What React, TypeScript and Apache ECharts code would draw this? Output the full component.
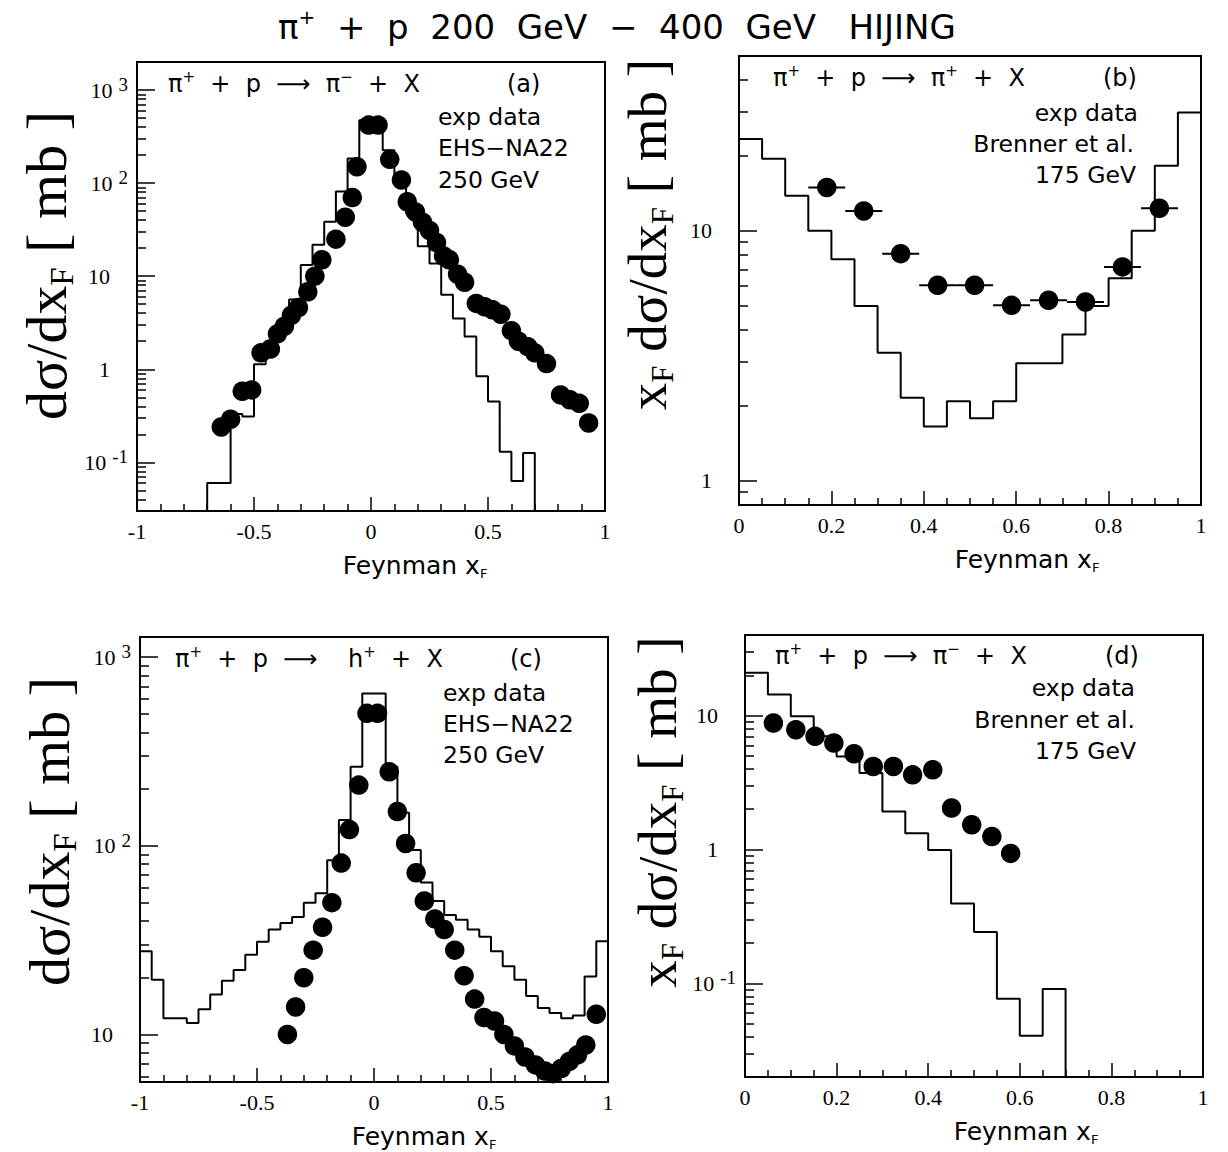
import React, { useEffect, useRef } from 'react';
import * as echarts from 'echarts';

// ---------- Panel (a): pi+ p -> pi- X, EHS-NA22 250 GeV ----------
const histEdgesA = [-0.7, -0.65, -0.6, -0.55, -0.5, -0.45, -0.4, -0.35, -0.3, -0.25, -0.2, -0.15, -0.1, -0.05, 0, 0.05, 0.1, 0.15, 0.2, 0.25, 0.3, 0.35, 0.4, 0.45, 0.5, 0.55, 0.6, 0.65, 0.7];
const histValuesA = [0.06, 0.06, 0.33, 0.31, 1.13, 2.0, 3.3, 5.6, 13.2, 21.7, 38.5, 81, 184, 473, 473, 226, 96, 47, 21, 13.7, 6.3, 3.5, 2.25, 0.84, 0.45, 0.13, 0.063, 0.126];
const dotsAx = [-0.64, -0.6, -0.55, -0.51, -0.47, -0.43, -0.4, -0.37, -0.34, -0.31, -0.27, -0.24, -0.21, -0.15, -0.11, -0.08, -0.06, -0.01, 0.03, 0.08, 0.13, 0.155, 0.19, 0.22, 0.25, 0.28, 0.31, 0.335, 0.37, 0.4, 0.45, 0.485, 0.52, 0.555, 0.6, 0.63, 0.67, 0.7, 0.75, 0.81, 0.85, 0.89, 0.93];
const dotsAy = [0.24, 0.29, 0.58, 0.6, 1.5, 1.65, 2.4, 2.9, 3.8, 4.6, 6.8, 10, 15, 25, 43, 70, 150, 420, 420, 180, 108, 63, 49, 38, 31, 23, 16.5, 15, 10.5, 8.6, 5.1, 4.7, 4.35, 3.9, 2.6, 2.0, 1.75, 1.5, 1.15, 0.53, 0.47, 0.43, 0.265];
const yTicksA = [0.1, 1, 10, 100, 1000];
const yLabelsA = ['10^-1', '1', '10', '10^2', '10^3'];

// ---------- Panel (b): pi+ p -> pi+ X, Brenner et al. 175 GeV ----------
const histEdgesB = [0, 0.05, 0.1, 0.15, 0.2, 0.25, 0.3, 0.35, 0.4, 0.45, 0.5, 0.55, 0.6, 0.65, 0.7, 0.75, 0.8, 0.85, 0.9, 0.95, 1.0];
const histValuesB = [23.3, 19.4, 13.8, 10.0, 7.7, 5.0, 3.25, 2.15, 1.65, 2.08, 1.78, 2.08, 2.95, 2.95, 3.85, 5.0, 6.45, 10.0, 18.2, 29.7];
const dotsBx = [0.19, 0.27, 0.35, 0.43, 0.51, 0.59, 0.67, 0.75, 0.83, 0.91];
const dotsBy = [14.9, 12.0, 8.1, 6.05, 6.05, 5.03, 5.27, 5.19, 7.17, 12.3];
const dotsBxErr = [0.04, 0.04, 0.04, 0.04, 0.04, 0.04, 0.04, 0.04, 0.04, 0.04];
const yTicksB = [1, 10];
const yLabelsB = ['1', '10'];

// ---------- Panel (c): pi+ p -> h+ X, EHS-NA22 250 GeV ----------
const histEdgesC = [-1, -0.95, -0.9, -0.85, -0.8, -0.75, -0.7, -0.65, -0.6, -0.55, -0.5, -0.45, -0.4, -0.35, -0.3, -0.25, -0.2, -0.15, -0.1, -0.05, 0, 0.05, 0.1, 0.15, 0.2, 0.25, 0.3, 0.35, 0.4, 0.45, 0.5, 0.55, 0.6, 0.65, 0.7, 0.75, 0.8, 0.85, 0.9, 0.95, 1.0];
const histValuesC = [27.6, 19.5, 12.2, 12.2, 11.5, 13.6, 16.3, 19.3, 22, 26.5, 31, 36, 39, 42, 50, 56, 84, 137, 263, 643, 643, 263, 150, 95, 64, 51, 43, 40.6, 36, 33, 27.6, 23, 19.5, 16, 13.8, 13, 12.2, 12.6, 20.3, 31.2];
const dotsCx = [-0.37, -0.335, -0.3, -0.26, -0.22, -0.18, -0.14, -0.105, -0.065, -0.03, 0.015, 0.065, 0.1, 0.135, 0.18, 0.215, 0.26, 0.3, 0.345, 0.385, 0.43, 0.47, 0.515, 0.555, 0.6, 0.645, 0.69, 0.73, 0.765, 0.8, 0.835, 0.87, 0.905, 0.95];
const dotsCy = [10, 14, 20, 28, 37, 50, 81, 122, 210, 504, 504, 247, 152, 103, 72, 51, 41, 36, 28, 20.5, 15.4, 12.3, 11.8, 10, 8.7, 7.6, 6.9, 6.4, 6.2, 6.6, 7.2, 7.8, 8.8, 12.8];
const yTicksC = [10, 100, 1000];
const yLabelsC = ['10', '10^2', '10^3'];

// ---------- Panel (d): pi+ p -> pi- X, Brenner et al. 175 GeV ----------
const histEdgesD = [0, 0.05, 0.1, 0.15, 0.2, 0.25, 0.3, 0.35, 0.4, 0.45, 0.5, 0.55, 0.6, 0.65, 0.7];
const histValuesD = [20.9, 14.4, 9.9, 7.0, 4.95, 3.72, 1.92, 1.32, 0.99, 0.395, 0.242, 0.0767, 0.0407, 0.091];
const dotsDx = [0.062, 0.111, 0.153, 0.194, 0.238, 0.28, 0.324, 0.366, 0.41, 0.451, 0.495, 0.539, 0.58];
const dotsDy = [8.8, 7.85, 7.0, 6.24, 5.19, 4.17, 4.17, 3.61, 3.94, 2.04, 1.53, 1.25, 0.935];
const yTicksD = [0.1, 1, 10];
const yLabelsD = ['10^-1', '1', '10'];

const minorMultipliers = [2, 3, 4, 5, 6, 7, 8, 9];
const decadeStarts = [0.01, 0.1, 1, 10, 100, 1000];

const SERIF = '"Liberation Serif", "Times New Roman", serif';
const SANS = '"DejaVu Sans", "Liberation Sans", sans-serif';

function stepPoints(edges: number[], values: number[], floorStart: number | null, floorEnd: number | null) {
  const pts: number[][] = [];
  if (floorStart != null) pts.push([edges[0], floorStart]);
  values.forEach((v, i) => {
    pts.push([edges[i], v]);
    pts.push([edges[i + 1], v]);
  });
  if (floorEnd != null) pts.push([edges[edges.length - 1], floorEnd]);
  return pts;
}

function zip(xs: number[], ys: number[]) {
  return xs.map((x, i) => [x, ys[i]]);
}

function minorTicks(min: number, max: number) {
  const out: number[] = [];
  decadeStarts.forEach((d) =>
    minorMultipliers.forEach((m) => {
      const v = +(d * m).toPrecision(6);
      if (v > min * 1.0001 && v < max * 0.9999) out.push(v);
    })
  );
  return out;
}

function logFormatter(ticks: number[], labels: string[]) {
  return (v: number) => {
    const i = ticks.findIndex((t) => Math.abs(v - t) <= t * 1e-6);
    if (i < 0) return '';
    const s = labels[i];
    const k = s.indexOf('^');
    return k >= 0 ? `{b|${s.slice(0, k)}}{s|${s.slice(k + 1)}}` : `{b|${s}}{p| }`;
  };
}

const yLabelRich = {
  b: { fontFamily: SERIF, fontSize: 22, lineHeight: 30, color: '#000' },
  s: { fontFamily: SERIF, fontSize: 19, lineHeight: 19, verticalAlign: 'top', color: '#000', padding: [0, 0, 0, 6] },
  p: { fontFamily: SERIF, fontSize: 22, width: 18 },
};

function yNameRich(size: number) {
  return {
    t: { fontFamily: SERIF, fontSize: size, lineHeight: size + 6, color: '#000' },
    sub: { fontFamily: SERIF, fontSize: Math.round(size * 0.57), lineHeight: Math.round(size * 0.57), verticalAlign: 'bottom', color: '#000' },
  };
}

const xNameRich = {
  t: { fontFamily: SANS, fontSize: 25, lineHeight: 30, color: '#000' },
  sub: { fontFamily: SANS, fontSize: 13, lineHeight: 13, verticalAlign: 'bottom', color: '#000' },
};

const textRich = {
  t: { fontFamily: SANS, fontSize: 24, lineHeight: 30, color: '#000' },
  sup: { fontFamily: SANS, fontSize: 15, lineHeight: 15, verticalAlign: 'top', color: '#000' },
};

const panels = [
  {
    grid: { left: 137, top: 62, width: 468, height: 449 },
    xMin: -1, xMax: 1, xInterval: 0.5, xMinorSplit: 5,
    yMin: 0.03, yMax: 2000, yTicks: yTicksA, yLabels: yLabelsA,
    yName: '{t|dσ/dx}{sub|F}{t| [ mb ]}', yNameSize: 58, yNameGap: 59, yNamePad: 42,
    xNamePad: 88, xNameGap: 39,
    hist: stepPoints(histEdgesA, histValuesA, 0.03, 0.03),
    dots: zip(dotsAx, dotsAy),
    err: null as null | number[][],
  },
  {
    grid: { left: 739, top: 56, width: 462, height: 449 },
    xMin: 0, xMax: 1, xInterval: 0.2, xMinorSplit: 4,
    yMin: 0.8, yMax: 50, yTicks: yTicksB, yLabels: yLabelsB,
    yName: '{t|x}{sub|F}{t| dσ/dx}{sub|F}{t| [ mb ]}', yNameSize: 55, yNameGap: 61, yNamePad: 92,
    xNamePad: 114, xNameGap: 39,
    hist: stepPoints(histEdgesB, histValuesB, null, null),
    dots: zip(dotsBx, dotsBy),
    err: dotsBx.map((x, i) => [x, dotsBy[i], dotsBxErr[i]]),
  },
  {
    grid: { left: 140, top: 637, width: 468, height: 446 },
    xMin: -1, xMax: 1, xInterval: 0.5, xMinorSplit: 5,
    yMin: 5.6, yMax: 1280, yTicks: yTicksC, yLabels: yLabelsC,
    yName: '{t|dσ/dx}{sub|F}{t| [ mb ]}', yNameSize: 58, yNameGap: 59, yNamePad: 56,
    xNamePad: 100, xNameGap: 39,
    hist: stepPoints(histEdgesC, histValuesC, null, null),
    dots: zip(dotsCx, dotsCy),
    err: null,
  },
  {
    grid: { left: 745, top: 635, width: 458, height: 442 },
    xMin: 0, xMax: 1, xInterval: 0.2, xMinorSplit: 4,
    yMin: 0.02, yMax: 40, yTicks: yTicksD, yLabels: yLabelsD,
    yName: '{t|x}{sub|F}{t| dσ/dx}{sub|F}{t| [ mb ]}', yNameSize: 55, yNameGap: 57, yNamePad: 88,
    xNamePad: 104, xNameGap: 39,
    hist: stepPoints(histEdgesD, histValuesD, null, 0.02),
    dots: zip(dotsDx, dotsDy),
    err: null,
  },
];

function text(x: number, y: number, str: string, align: string = 'left') {
  return {
    type: 'text',
    x,
    y,
    silent: true,
    style: {
      text: str,
      fontFamily: SANS,
      fontSize: 23.5,
      fill: '#000',
      align,
      verticalAlign: 'middle',
      rich: textRich,
    },
  };
}

function buildOption() {
  const grid: any[] = [];
  const xAxis: any[] = [];
  const yAxis: any[] = [];
  const series: any[] = [];
  const tickLine = { color: '#000', width: 1.5 };

  panels.forEach((p, i) => {
    grid.push({ ...p.grid, show: true, borderColor: '#000', borderWidth: 2, backgroundColor: 'transparent', containLabel: false });
    xAxis.push({
      type: 'value', gridIndex: i, min: p.xMin, max: p.xMax, interval: p.xInterval, position: 'bottom',
      axisLine: { show: true, onZero: false, lineStyle: { color: '#000', width: 2 } },
      axisTick: { show: true, inside: true, length: 14, lineStyle: tickLine },
      minorTick: { show: true, splitNumber: p.xMinorSplit, length: 7, lineStyle: tickLine },
      splitLine: { show: false },
      minorSplitLine: { show: false },
      axisLabel: { color: '#000', fontFamily: SERIF, fontSize: 22, margin: 9 },
      name: '{t|Feynman x}{sub|F}',
      nameLocation: 'middle',
      nameGap: p.xNameGap,
      nameTextStyle: { rich: xNameRich, padding: [0, 0, 0, p.xNamePad] },
    });
    yAxis.push({
      type: 'log', logBase: 10, gridIndex: i, min: p.yMin, max: p.yMax, position: 'left',
      axisLine: { show: true, onZero: false, lineStyle: { color: '#000', width: 2 } },
      axisTick: { show: true, inside: true, length: 18, customValues: p.yTicks, lineStyle: tickLine },
      axisLabel: { show: true, customValues: p.yTicks, formatter: logFormatter(p.yTicks, p.yLabels), rich: yLabelRich, margin: 9 },
      splitLine: { show: false },
      minorTick: { show: false },
      name: p.yName,
      nameLocation: 'middle',
      nameGap: p.yNameGap,
      nameTextStyle: { rich: yNameRich(p.yNameSize), padding: [0, 0, 0, p.yNamePad] },
    });
    yAxis.push({
      type: 'log', logBase: 10, gridIndex: i, min: p.yMin, max: p.yMax, position: 'left', offset: 0,
      axisLine: { show: false, onZero: false },
      axisTick: { show: true, inside: true, length: 9, customValues: minorTicks(p.yMin, p.yMax), lineStyle: tickLine },
      axisLabel: { show: false },
      splitLine: { show: false },
    });
    const yIdx = 2 * i;
    series.push({
      type: 'line', xAxisIndex: i, yAxisIndex: yIdx, data: p.hist, symbol: 'none', showSymbol: false,
      lineStyle: { color: '#000', width: 2 }, silent: true, z: 3,
    });
    if (p.err) {
      series.push({
        type: 'custom', xAxisIndex: i, yAxisIndex: yIdx, data: p.err, silent: true, z: 4,
        renderItem: (_params: any, api: any) => {
          const x = api.value(0);
          const y = api.value(1);
          const e = api.value(2);
          const a = api.coord([x - e, y]);
          const b = api.coord([x + e, y]);
          return { type: 'line', shape: { x1: a[0], y1: a[1], x2: b[0], y2: b[1] }, style: { stroke: '#000', lineWidth: 2 } };
        },
      });
    }
    series.push({
      type: 'scatter', xAxisIndex: i, yAxisIndex: yIdx, data: p.dots, symbol: 'circle', symbolSize: 19.5,
      itemStyle: { color: '#000', opacity: 1 }, silent: true, z: 5,
    });
  });

  const graphic = [
    {
      type: 'text', x: 617, y: 27, silent: true,
      style: {
        text: '{t|π}{sup|+}{t|  +  p  200  GeV  −  400  GeV   HIJING}',
        align: 'center', verticalAlign: 'middle',
        rich: {
          t: { fontFamily: SANS, fontSize: 34, lineHeight: 40, color: '#000' },
          sup: { fontFamily: SANS, fontSize: 20, lineHeight: 20, verticalAlign: 'top', color: '#000' },
        },
      },
    },
    text(168, 84, '{t|π}{sup|+}{t|  +  p  ⟶  π}{sup|−}{t|  +  X}'),
    text(507, 84, '{t|(a)}'),
    text(438, 117, 'exp data'),
    text(438, 148, 'EHS−NA22'),
    text(438, 180, '250 GeV'),

    text(773, 78, '{t|π}{sup|+}{t|  +  p  ⟶  π}{sup|+}{t|  +  X}'),
    text(1103, 78, '{t|(b)}'),
    text(1138, 113, 'exp data', 'right'),
    text(1134, 144, 'Brenner et al.', 'right'),
    text(1136, 175, '175 GeV', 'right'),

    text(175, 659, '{t|π}{sup|+}{t|  +  p  ⟶    h}{sup|+}{t|  +  X}'),
    text(510, 659, '{t|(c)}'),
    text(443, 693, 'exp data'),
    text(443, 724, 'EHS−NA22'),
    text(443, 755, '250 GeV'),

    text(775, 656, '{t|π}{sup|+}{t|  +  p  ⟶  π}{sup|−}{t|  +  X}'),
    text(1105, 656, '{t|(d)}'),
    text(1135, 688, 'exp data', 'right'),
    text(1135, 720, 'Brenner et al.', 'right'),
    text(1136, 751, '175 GeV', 'right'),
  ];

  return { animation: false, backgroundColor: '#fff', grid, xAxis, yAxis, series, graphic };
}

export default function App() {
  const ref = useRef<HTMLDivElement>(null);
  useEffect(() => {
    if (!ref.current) return;
    const chart = echarts.init(ref.current, undefined, { renderer: 'svg' });
    chart.setOption(buildOption() as any);
    return () => chart.dispose();
  }, []);
  return (
    <div
      ref={ref}
      style={{ position: 'fixed', left: 0, top: 0, width: 1228, height: 1152, background: '#fff' }}
    />
  );
}
